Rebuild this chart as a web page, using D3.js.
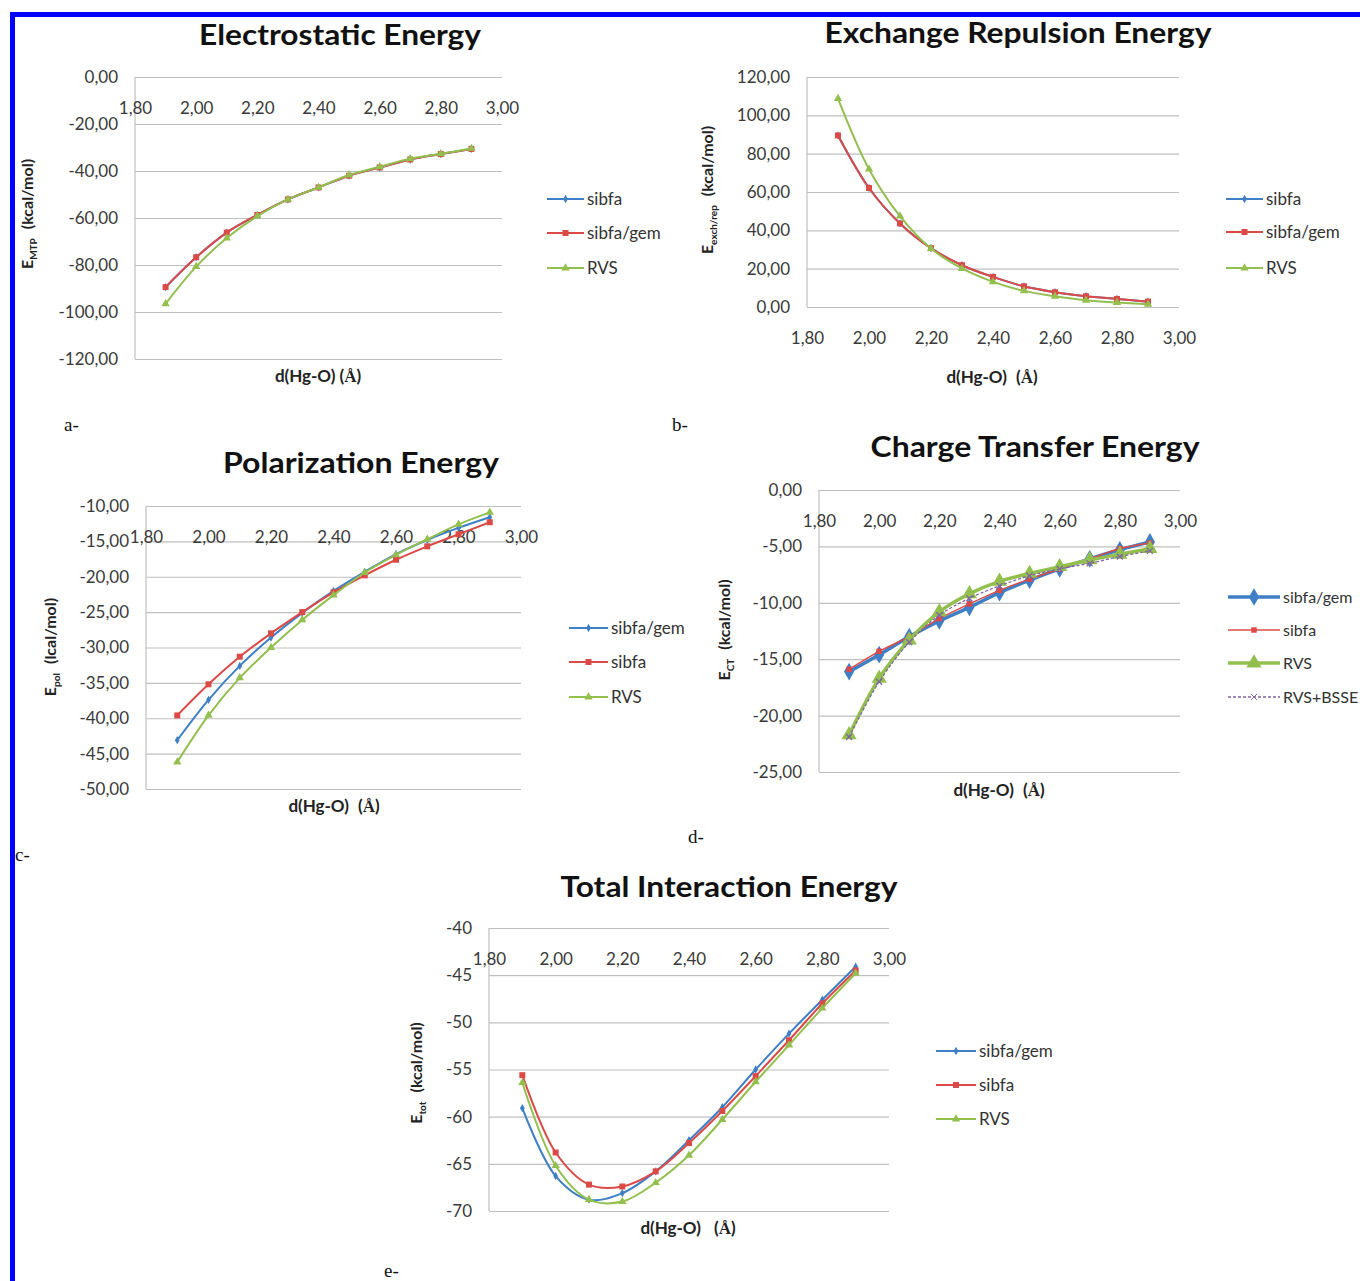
<!DOCTYPE html>
<html>
<head>
<meta charset="utf-8">
<script src="https://cdn.jsdelivr.net/npm/d3@7"></script>
<style>
 body { margin: 0; background: #fff; }
 svg { display: block; }
</style>
</head>
<body>
<svg></svg>
<script>
// размеры страницы
const width = 1360;
const height = 1281;
const svg = d3.select("svg")
 .attr("width", width)
 .attr("height", height);

// расстояния d(Hg-O), Å
const dist = [1.9, 2.0, 2.1, 2.2, 2.3, 2.4, 2.5, 2.6, 2.7, 2.8, 2.9];
const xTicks = [1.8, 2.0, 2.2, 2.4, 2.6, 2.8, 3.0];

// a - электростатика
const elecTicks = [0, -20, -40, -60, -80, -100, -120];
const elecSibfa = [-89.4, -76.7, -66.2, -58.7, -52.1, -47.0, -42.0, -38.5, -35.1, -32.8, -30.6];
const elecSibfaGem = [-89.4, -76.7, -66.2, -58.7, -52.1, -47.0, -42.0, -38.5, -35.1, -32.8, -30.6];
const elecRvs = [-96.5, -80.7, -68.5, -59.2, -52.1, -47.0, -41.7, -38.2, -34.8, -32.7, -30.4];

// b - обменное отталкивание
const exchTicks = [0, 20, 40, 60, 80, 100, 120];
const exchSibfa = [89.5, 62.1, 43.6, 30.7, 21.8, 15.7, 10.8, 7.7, 5.6, 4.2, 2.8];
const exchSibfaGem = [89.5, 62.1, 43.6, 30.7, 21.8, 15.7, 10.8, 7.7, 5.6, 4.2, 2.8];
const exchRvs = [108.7, 71.9, 47.4, 30.5, 20.1, 13.1, 8.4, 5.6, 3.5, 2.3, 1.4];

// c - поляризация
const polTicks = [-10, -15, -20, -25, -30, -35, -40, -45, -50];
const polSibfaGem = [-43.1, -37.4, -32.6, -28.6, -25.1, -22.0, -19.3, -16.8, -14.8, -13.1, -11.6];
const polSibfa = [-39.6, -35.2, -31.3, -28.0, -25.0, -22.2, -19.8, -17.6, -15.7, -14.0, -12.3];
const polRvs = [-46.2, -39.6, -34.3, -30.0, -26.1, -22.6, -19.4, -16.9, -14.7, -12.6, -10.9];

// d - перенос заряда
const ctTicks = [0, -5, -10, -15, -20, -25];
const ctSibfaGem = [-16.1, -14.6, -13.0, -11.6, -10.4, -9.1, -8.0, -7.0, -6.1, -5.3, -4.6];
const ctSibfa = [-15.9, -14.3, -13.0, -11.4, -10.1, -8.9, -7.9, -7.0, -6.1, -5.2, -4.7];
const ctRvs = [-21.7, -16.7, -13.3, -10.8, -9.2, -8.1, -7.4, -6.8, -6.2, -5.7, -5.2];
const ctRvsBsse = [-21.9, -17.0, -13.5, -11.1, -9.6, -8.5, -7.6, -7.0, -6.5, -5.9, -5.4];

// e - полная энергия
const totTicks = [-40, -45, -50, -55, -60, -65, -70];
const totSibfaGem = [-59.1, -66.3, -68.8, -68.1, -65.8, -62.5, -59.0, -55.0, -51.2, -47.6, -44.1];
const totSibfa = [-55.6, -63.8, -67.2, -67.4, -65.8, -62.8, -59.4, -55.7, -51.9, -48.0, -44.5];
const totRvs = [-56.4, -65.2, -68.8, -69.0, -67.0, -64.1, -60.3, -56.3, -52.4, -48.5, -44.8];

// цвета как в Excel
const BLUE = "#3e7fc6";
const RED = "#dc4a48";
const GREEN = "#93bf4f";
const PURPLE = "#8064a2";

const SANS = "Lato, 'Open Sans', sans-serif";
const SERIF = "'Liberation Serif', 'DejaVu Serif', serif";

// формат чисел с запятой
const locale = d3.formatLocale({decimal: ",", thousands: " ", grouping: [3], currency: ["", ""], minus: "-"});
const fmt2 = locale.format(".2f");
const fmt0 = locale.format("d");

// синяя рамка
svg.append("rect").attr("x", 10).attr("y", 12).attr("width", 1350).attr("height", 5).attr("fill", "#0000ff");
svg.append("rect").attr("x", 10).attr("y", 12).attr("width", 5).attr("height", 1269).attr("fill", "#0000ff");

function marker(type, size) {
 const t = {diamond: d3.symbolDiamond, square: d3.symbolSquare, triangle: d3.symbolTriangle, x: d3.symbolX}[type];
 return d3.symbol().type(t).size(size)();
}

function drawPanel(p) {
 const x = d3.scaleLinear().domain([1.8, 3.0]).range([p.left, p.right]);
 const y = d3.scaleLinear().domain(p.yDomain).range([p.bottom, p.top]);
 const g = svg.append("g");
 const legendFont = p.legendFont || "17px";

 // заголовок (растянут по ширине как в оригинале)
 g.append("text")
 .attr("x", p.titleX).attr("y", p.titleY).attr("dy", "0.35em")
 .attr("text-anchor", "middle")
 .attr("textLength", p.titleLen).attr("lengthAdjust", "spacingAndGlyphs")
 .style("font-family", SANS).style("font-weight", 700).style("font-size", "29px")
 .attr("fill", "#111")
 .text(p.title);

 // сетка и подписи оси Y
 g.append("g")
 .attr("transform", `translate(${p.left},0)`)
 .call(d3.axisLeft(y).tickValues(p.yTicks).tickFormat(p.yFormat)
 .tickSize(-(p.right - p.left)).tickPadding(17))
 .call(a => a.select(".domain").remove())
 .call(a => a.selectAll("line").attr("stroke", "#bfbfbf").attr("stroke-width", 1.2))
 .call(a => a.selectAll("text").attr("fill", "#3a3a3a")
 .style("font-family", SANS).style("font-size", "17px"));

 // вертикальная ось
 g.append("line")
 .attr("x1", p.left).attr("x2", p.left)
 .attr("y1", p.top).attr("y2", p.bottom)
 .attr("stroke", "#bfbfbf").attr("stroke-width", 1.2);

 // подписи оси X
 g.append("g")
 .attr("transform", `translate(0,${y(p.xCross)})`)
 .call(d3.axisBottom(x).tickValues(xTicks).tickFormat(fmt2).tickSize(0))
 .call(a => a.select(".domain").remove())
 .call(a => a.selectAll("text").attr("y", 31).attr("dy", "0.35em").attr("fill", "#3a3a3a")
 .style("font-family", SANS).style("font-size", "17px"));

 // подпись оси Y
 const yl = g.append("text")
 .attr("transform", `translate(${p.yLabelX},${p.yLabelY}) rotate(-90)`)
 .attr("text-anchor", "middle")
 .style("font-family", SANS).style("font-weight", 700).style("font-size", "16px")
 .attr("fill", "#222");
 yl.append("tspan").text("E");
 yl.append("tspan").attr("dy", 4).style("font-size", "10px").text(p.ySub);
 yl.append("tspan").attr("dy", -4).attr("dx", 9).text(p.yUnit);

 // подпись оси X
 const xl = g.append("text")
 .attr("x", p.xLabelX).attr("y", p.xLabelY).attr("dy", "0.35em")
 .attr("text-anchor", "middle")
 .style("font-family", SANS).style("font-weight", 700).style("font-size", "17px")
 .attr("fill", "#222");
 xl.append("tspan").text("d(Hg-O)");
 xl.append("tspan").attr("dx", p.xGap).text("(");
 xl.append("tspan").style("font-family", SERIF).text("Å");
 xl.append("tspan").text(")");

 // кривые
 const line = d3.line()
 .x((d, i) => x(dist[i]))
 .y(d => y(d))
 .curve(d3.curveCatmullRom.alpha(0.5));

 p.series.forEach(s => {
 g.append("path")
 .attr("d", line(s.values))
 .attr("fill", "none")
 .attr("stroke", s.color)
 .attr("stroke-width", s.width)
 .attr("stroke-dasharray", s.dash || null);
 g.selectAll(null)
 .data(s.values)
 .join("path")
 .attr("d", marker(s.marker, s.size))
 .attr("transform", (d, i) => `translate(${x(dist[i])},${y(d)})`)
 .attr("fill", s.marker === "x" ? "none" : s.color)
 .attr("stroke", s.marker === "x" ? s.color : "none")
 .attr("stroke-width", 1.2);
 });

 // легенда
 p.series.forEach((s, i) => {
 const ly = p.legendY[i];
 g.append("line")
 .attr("x1", p.legendX).attr("x2", p.legendX + p.legendLen)
 .attr("y1", ly).attr("y2", ly)
 .attr("stroke", s.color).attr("stroke-width", s.width)
 .attr("stroke-dasharray", s.dash || null);
 g.append("path")
 .attr("d", marker(s.marker, s.size))
 .attr("transform", `translate(${p.legendX + p.legendLen / 2},${ly})`)
 .attr("fill", s.marker === "x" ? "none" : s.color)
 .attr("stroke", s.marker === "x" ? s.color : "none");
 g.append("text")
 .attr("x", p.legendX + p.legendLen + 3).attr("y", ly).attr("dy", "0.35em")
 .style("font-family", SANS).style("font-size", legendFont)
 .attr("fill", "#333")
 .text(s.name);
 });

 // буква панели
 g.append("text")
 .attr("x", p.letterX).attr("y", p.letterY)
 .style("font-family", SERIF).style("font-size", "19px")
 .attr("fill", "#111")
 .text(p.letter);
}

// a
drawPanel({
 title: "Electrostatic Energy", titleX: 340, titleY: 35, titleLen: 282,
 left: 135, right: 502, top: 77, bottom: 359,
 yDomain: [-120, 0], yTicks: elecTicks, yFormat: fmt2, xCross: 0,
 ySub: "MTP", yUnit: "(kcal/mol)", yLabelX: 33, yLabelY: 214,
 xLabelX: 318, xLabelY: 376, xGap: 4,
 legendX: 547, legendLen: 37, legendY: [199, 233, 268],
 letter: "a-", letterX: 64, letterY: 431,
 series: [
 {name: "sibfa", values: elecSibfa, color: BLUE, width: 2, marker: "diamond", size: 20},
 {name: "sibfa/gem", values: elecSibfaGem, color: RED, width: 2, marker: "square", size: 36},
 {name: "RVS", values: elecRvs, color: GREEN, width: 2, marker: "triangle", size: 30}
 ]
});

// b
drawPanel({
 title: "Exchange Repulsion Energy", titleX: 1018, titleY: 33, titleLen: 387,
 left: 807, right: 1179, top: 77, bottom: 307,
 yDomain: [0, 120], yTicks: exchTicks, yFormat: fmt2, xCross: 0,
 ySub: "exch/rep", yUnit: "(kcal/mol)", yLabelX: 713, yLabelY: 190,
 xLabelX: 992, xLabelY: 377, xGap: 9,
 legendX: 1226, legendLen: 37, legendY: [199, 232, 268],
 letter: "b-", letterX: 672, letterY: 431,
 series: [
 {name: "sibfa", values: exchSibfa, color: BLUE, width: 2, marker: "diamond", size: 20},
 {name: "sibfa/gem", values: exchSibfaGem, color: RED, width: 2, marker: "square", size: 36},
 {name: "RVS", values: exchRvs, color: GREEN, width: 2, marker: "triangle", size: 30}
 ]
});

// c
drawPanel({
 title: "Polarization Energy", titleX: 361, titleY: 463, titleLen: 276,
 left: 146, right: 521, top: 506, bottom: 789,
 yDomain: [-50, -10], yTicks: polTicks, yFormat: fmt2, xCross: -10,
 ySub: "pol", yUnit: "(lcal/mol)", yLabelX: 56, yLabelY: 647,
 xLabelX: 334, xLabelY: 806, xGap: 9,
 legendX: 569, legendLen: 39, legendY: [628, 662, 697],
 letter: "c-", letterX: 15, letterY: 861,
 series: [
 {name: "sibfa/gem", values: polSibfaGem, color: BLUE, width: 2, marker: "diamond", size: 20},
 {name: "sibfa", values: polSibfa, color: RED, width: 2, marker: "square", size: 36},
 {name: "RVS", values: polRvs, color: GREEN, width: 2, marker: "triangle", size: 30}
 ]
});

// d
drawPanel({
 title: "Charge Transfer Energy", titleX: 1035, titleY: 447, titleLen: 329,
 left: 819, right: 1180, top: 490, bottom: 772,
 yDomain: [-25, 0], yTicks: ctTicks, yFormat: fmt2, xCross: 0,
 ySub: "CT", yUnit: "(kcal/mol)", yLabelX: 730, yLabelY: 630,
 xLabelX: 999, xLabelY: 790, xGap: 9,
 legendX: 1228, legendLen: 52, legendY: [597, 630, 663, 697],
 legendFont: "16px",
 letter: "d-", letterX: 688, letterY: 843,
 series: [
 {name: "sibfa/gem", values: ctSibfaGem, color: BLUE, width: 3.5, marker: "diamond", size: 90},
 {name: "sibfa", values: ctSibfa, color: RED, width: 1.5, marker: "square", size: 30},
 {name: "RVS", values: ctRvs, color: GREEN, width: 3.5, marker: "triangle", size: 100},
 {name: "RVS+BSSE", values: ctRvsBsse, color: PURPLE, width: 1.3, marker: "x", size: 25, dash: "3,2"}
 ]
});

// e
drawPanel({
 title: "Total Interaction Energy", titleX: 729, titleY: 887, titleLen: 337,
 left: 489, right: 889, top: 928, bottom: 1211,
 yDomain: [-70, -40], yTicks: totTicks, yFormat: fmt0, xCross: -40,
 ySub: "tot", yUnit: "(kcal/mol)", yLabelX: 422, yLabelY: 1073,
 xLabelX: 688, xLabelY: 1228, xGap: 13,
 legendX: 936, legendLen: 40, legendY: [1051, 1085, 1119],
 letter: "e-", letterX: 384, letterY: 1277,
 series: [
 {name: "sibfa/gem", values: totSibfaGem, color: BLUE, width: 2, marker: "diamond", size: 20},
 {name: "sibfa", values: totSibfa, color: RED, width: 2, marker: "square", size: 36},
 {name: "RVS", values: totRvs, color: GREEN, width: 2, marker: "triangle", size: 30}
 ]
});
</script>
</body>
</html>
